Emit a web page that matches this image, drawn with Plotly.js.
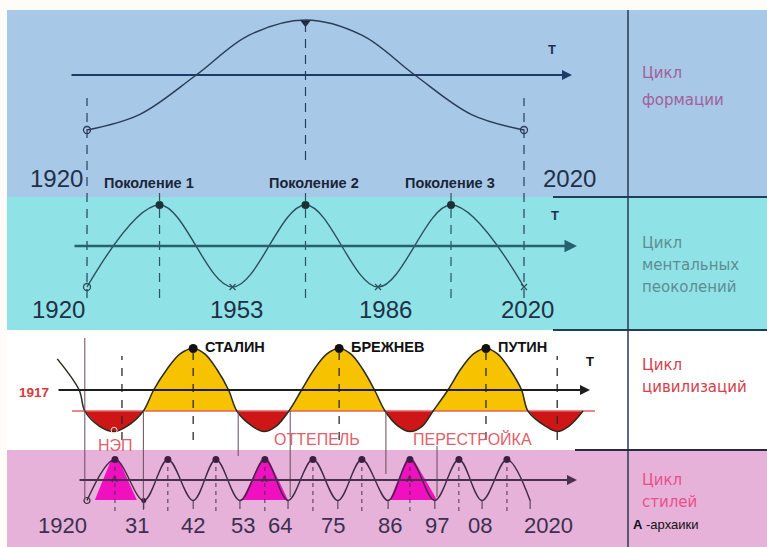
<!DOCTYPE html>
<html><head><meta charset="utf-8">
<script src="https://cdn.plot.ly/plotly-3.0.1.min.js"></script>
<style>html,body{margin:0;padding:0;background:#fdfcf8}#chart{width:767px;height:547px}</style>
</head><body><div id="chart"></div>
<script>
// ---------------- DATA ----------------
// Panel 1: cycle of formation
const formationYears = [1920, 1932, 1945, 1957, 1970, 1983, 1995, 2008, 2020];
const formationLevel = [-1, -0.72, 0, 0.72, 1, 0.72, 0, -0.72, -1];
const formationTickLabels = ['1920', '2020'];
const formationTickPos = [1913.1, 2030.5];
const generationNames = ['Поколение 1', 'Поколение 2', 'Поколение 3'];
const generationNamePos = [1934.2, 1971.9, 2003.1];

// Panel 2: cycle of mental generations
const generationYears = [1920, 1936.6, 1953.3, 1970, 1986.6, 2003.3, 2020];
const generationLevel = [-1, 1, -1, 1, -1, 1, -1];
const generationTickLabels = ['1920', '1953', '1986', '2020'];
const generationTickPos = [1913.4, 1954.3, 1988.4, 2020.7];

// Panel 3: cycle of civilizations
const civYears = [1913.2, 1918.2, 1919.5, 1922.8, 1926.2, 1929.2, 1932.9, 1935.25, 1938.3, 1941.3,
                  1944.3, 1946.95, 1949.7, 1952.4, 1954.3, 1957.8, 1960.5, 1963.3, 1966.2, 1969.1,
                  1972.0, 1974.9, 1977.7, 1980.35, 1983.1, 1985.8, 1988.2, 1991.2, 1993.9, 1996.75,
                  1999.2, 2002.6, 2005.5, 2008.45, 2011.3, 2013.95, 2016.75, 2019.45, 2020.9, 2024.9,
                  2027.6, 2030.3, 2033.5];
const civLevel = [0.75, 0, -0.506, -0.87, -1, -0.87, -0.506, 0, 0.5, 0.87,
                  1, 0.87, 0.5, 0, -0.506, -0.87, -1, -0.87, -0.506, 0,
                  0.5, 0.87, 1, 0.87, 0.5, 0, -0.506, -0.87, -1, -0.87,
                  -0.506, 0, 0.5, 0.87, 1, 0.87, 0.5, 0, -0.506, -0.87,
                  -1, -0.87, -0.506];
const civBaseline = -0.506;
const civRedLobes = [[2, 6], [14, 18], [26, 30], [38, 42]];
const civYellowLobes = [[6, 14], [18, 26], [30, 38]];
const leaderNames = ['СТАЛИН', 'БРЕЖНЕВ', 'ПУТИН'];
const leaderYears = [1944.3, 1977.7, 2011.3];
const periodNames = ['НЭП', 'ОТТЕПЕЛЬ', 'ПЕРЕСТРОЙКА'];
const periodNamePos = [1926.6, 1972.6, 2008.1];
const periodBounds = [1919.5, 1932.9, 1954.6, 1966.5, 1988.4, 2000.1];

// Panel 4: cycle of styles
const styleYears = [1920.0, 1926.4, 1933.0, 1938.5, 1944.3, 1949.5, 1955.0, 1960.7, 1966.0, 1971.7,
                    1977.4, 1982.9, 1988.9, 1993.9, 1999.6, 2005.1, 2010.4, 2016.1, 2021.4];
const styleLevel = [-1, 1, -1, 1, -1, 1, -1, 1, -1, 1, -1, 1, -1, 1, -1, 1, -1, 1, -1];
const archaicX = [[1921.8, 1925.5, 1927.3, 1931.4], [1955.5, 1959.8, 1961.6, 1966.0], [1989.3, 1993.0, 1994.8, 2000.1]];
const archaicY = [-0.98, 0.98, 0.98, -0.98];
const styleTickLabels = ['1920', '31', '42', '53', '64', '75', '86', '97', '08', '2020'];
const styleTickPos = [1914.3, 1931.4, 1944.3, 1955.7, 1964.2, 1976.3, 1989.3, 2000.1, 2009.9, 2025.5];

// ---------------- LAYOUT HELPERS ----------------
const W = 767, H = 547, K = 4.37;
const X0 = 1920 - 87 / K, X1 = X0 + W / K;
const P = y => 1 - y / H;          // pixel row -> paper
const PX = x => x / W;              // pixel col -> paper
function yax(top, bottom, axisPx, unit) {
  return {domain: [P(bottom), P(top)], range: [-(bottom - axisPx) / unit, (axisPx - top) / unit],
          visible: false, fixedrange: true, showgrid: false, zeroline: false};
}
const FONT = 'Liberation Sans, Arial, sans-serif';
const FONT2 = 'DejaVu Sans, Liberation Sans, sans-serif';

const traces = [];
const shapes = [];
const ann = [];

// backgrounds
shapes.push({type: 'rect', xref: 'paper', yref: 'paper', x0: PX(7), x1: 1, y0: P(197), y1: P(10), fillcolor: '#a8c8e8', line: {width: 0}, layer: 'below'});
shapes.push({type: 'rect', xref: 'paper', yref: 'paper', x0: PX(7), x1: 1, y0: P(330), y1: P(197), fillcolor: '#8fe3e6', line: {width: 0}, layer: 'below'});
shapes.push({type: 'rect', xref: 'paper', yref: 'paper', x0: PX(7), x1: 1, y0: P(450), y1: P(330), fillcolor: '#ffffff', line: {width: 0}, layer: 'below'});
shapes.push({type: 'rect', xref: 'paper', yref: 'paper', x0: PX(7), x1: 1, y0: 0, y1: P(450), fillcolor: '#e6b2d9', line: {width: 0}, layer: 'below'});
// right column dividers
shapes.push({type: 'line', xref: 'paper', yref: 'paper', x0: PX(628), x1: PX(628), y0: 0, y1: P(10), line: {color: '#2a3a50', width: 1.5}});
shapes.push({type: 'line', xref: 'paper', yref: 'paper', x0: PX(553), x1: 1, y0: P(197), y1: P(197), line: {color: '#1f3f55', width: 2}});
shapes.push({type: 'line', xref: 'paper', yref: 'paper', x0: PX(553), x1: 1, y0: P(330), y1: P(330), line: {color: '#1f3f55', width: 2}});
shapes.push({type: 'line', xref: 'paper', yref: 'paper', x0: PX(575), x1: 1, y0: P(450), y1: P(450), line: {color: '#2a2a40', width: 2}});

function vline(x, yTop, yBot, color, dash, width) {
  shapes.push({type: 'line', xref: 'x', yref: 'paper', x0: x, x1: x, y0: P(yBot), y1: P(yTop),
               line: {color: color, width: width || 1.2, dash: dash || 'solid'}});
}
function arrow(yref, tail, head, color, width) {
  ann.push({xref: 'x', yref: yref, axref: 'x', ayref: yref, x: head, y: 0, ax: tail, ay: 0, text: '',
            showarrow: true, arrowhead: 2, arrowsize: 1, arrowwidth: width, arrowcolor: color});
}
function txt(xref, x, y, text, size, color, opts, family) {
  ann.push(Object.assign({xref: xref, yref: 'paper', x: xref === 'paper' ? PX(x) : x, y: P(y), text: text,
    showarrow: false, font: {family: family || FONT, size: size, color: color}, xanchor: 'center', yanchor: 'middle'}, opts || {}));
}

// ---------------- PANEL 1 ----------------
vline(1920, 98, 298, '#2a3f5f', '9px,7px');
vline(2020, 98, 298, '#2a3f5f', '9px,7px');
vline(1970, 22, 160, '#2a3f5f', '9px,7px');
arrow('y', X0 + 70 / K, X0 + 572 / K, '#1e3a66', 2);
traces.push({x: formationYears, y: formationLevel, yaxis: 'y', mode: 'lines', line: {shape: 'spline', color: '#2b3c55', width: 1.5}});
traces.push({x: [formationYears[0], formationYears[formationYears.length - 1]], y: [formationLevel[0], formationLevel[formationLevel.length - 1]], yaxis: 'y', mode: 'markers',
             marker: {symbol: 'circle-open', size: 7, color: '#2b3c55', line: {width: 1.3}}});
traces.push({x: [formationYears[4]], y: [formationLevel[4] - 0.05], yaxis: 'y', mode: 'markers', marker: {symbol: 'triangle-down', size: 9, color: '#1e2a40'}});
txt('paper', 552, 50, '<b>Т</b>', 13, '#1e3050');
formationTickLabels.forEach((t, i) => txt('x', formationTickPos[i], 178, t, 24, '#1f3047'));
generationNames.forEach((t, i) => txt('x', generationNamePos[i], 183, '<b>' + t + '</b>', 14.5, '#1b2535'));

// ---------------- PANEL 2 ----------------
[generationYears[1], generationYears[3], generationYears[5]].forEach(x => vline(x, 186, 298, '#2a5560', '9px,7px'));
arrow('y2', X0 + 73 / K, X0 + 577 / K, '#276070', 2.5);
traces.push({x: generationYears, y: generationLevel, yaxis: 'y2', mode: 'lines', line: {shape: 'spline', color: '#2e4f5a', width: 1.4}});
traces.push({x: [generationYears[0]], y: [generationLevel[0]], yaxis: 'y2', mode: 'markers', marker: {symbol: 'circle-open', size: 7, color: '#2e4f5a', line: {width: 1.3}}});
traces.push({x: [generationYears[1], generationYears[3], generationYears[5]], y: [1, 1, 1], yaxis: 'y2', mode: 'markers', marker: {size: 8, color: '#1c3036'}});
traces.push({x: [generationYears[2], generationYears[4], generationYears[6]], y: [-1, -1, -1], yaxis: 'y2', mode: 'markers', marker: {symbol: 'x-thin-open', size: 6, color: '#2e4f5a', line: {width: 1.2}}});
txt('paper', 555, 216, '<b>Т</b>', 13, '#1e3050');
generationTickLabels.forEach((t, i) => txt('x', generationTickPos[i], 309, t, 24, '#1f3047'));

// ---------------- PANEL 3 ----------------
civYellowLobes.forEach(([a, b]) => traces.push({x: civYears.slice(a, b + 1), y: civLevel.slice(a, b + 1), yaxis: 'y3', mode: 'lines',
  line: {shape: 'spline', width: 0}, fill: 'toself', fillcolor: '#f7c300'}));
civRedLobes.forEach(([a, b]) => traces.push({x: civYears.slice(a, b + 1), y: civLevel.slice(a, b + 1), yaxis: 'y3', mode: 'lines',
  line: {shape: 'spline', width: 0}, fill: 'toself', fillcolor: '#cf1616'}));
traces.push({x: [X0 + 72 / K, X0 + 595 / K], y: [civBaseline, civBaseline], yaxis: 'y3', mode: 'lines', line: {color: '#e06060', width: 1.3}});
[1928.0, leaderYears[0], leaderYears[1], leaderYears[2], 2027.6].forEach((x, i) =>
  vline(x, (i === 0 || i === 4) ? 356 : 349, 440, '#2a2a2a', '8px,8px', 1.3));
periodBounds.forEach((x, i) => {
  const r = [[338, 500], [411, 510], [411, 456], [411, 497], [411, 474], [446, 497]][i];
  vline(x, r[0], r[1], '#6b4a5a', 'solid', 1);
});
arrow('y3', X0 + 57 / K, X0 + 590 / K, '#1d1d1d', 2);
traces.push({x: civYears, y: civLevel, yaxis: 'y3', mode: 'lines', line: {shape: 'spline', color: '#2a2a1e', width: 1.5}});
traces.push({x: leaderYears, y: [1, 1, 1], yaxis: 'y3', mode: 'markers', marker: {size: 9, color: '#111'}});
traces.push({x: [civYears[4]], y: [-0.97], yaxis: 'y3', mode: 'markers', marker: {symbol: 'circle-open', size: 6, color: '#e8e0d0', line: {width: 1}}});
txt('paper', 590, 361, '<b>Т</b>', 13, '#111');
txt('paper', 51, 392, '<b>1917</b>', 13.5, '#d63a3a', {xanchor: 'right'});
leaderNames.forEach((t, i) => txt('x', leaderYears[i] + 2.3, 347, '<b>' + t + '</b>', 14.5, '#111', {xanchor: 'left'}));
periodNames.forEach((t, i) => txt('x', periodNamePos[i], i === 0 ? 445 : 439, t, 16, '#e0606c'));

// ---------------- PANEL 4 ----------------
archaicX.forEach(xs => traces.push({x: xs, y: archaicY, yaxis: 'y4', mode: 'lines', line: {width: 0}, fill: 'toself', fillcolor: '#f010c0'}));
styleYears.forEach((x, i) => {
  if (styleLevel[i] > 0) vline(x, 466, 511, '#4a3050', '4px,4px', 1);
  else if (i > 0) vline(x, 500, 509, '#4a3050', 'solid', 1);
});
arrow('y4', X0 + 78 / K, X0 + 577 / K, '#4a3050', 2);
traces.push({x: styleYears, y: styleLevel, yaxis: 'y4', mode: 'lines', line: {shape: 'spline', color: '#3e2a45', width: 1.4}});
traces.push({x: styleYears.filter((_, i) => styleLevel[i] > 0), y: styleLevel.filter(v => v > 0), yaxis: 'y4', mode: 'markers', marker: {size: 7, color: '#3a1f40'}});
traces.push({x: [styleYears[0]], y: [styleLevel[0]], yaxis: 'y4', mode: 'markers', marker: {symbol: 'circle-open', size: 6, color: '#3e2a45', line: {width: 1.2}}});
traces.push({x: [styleYears[2]], y: [styleLevel[2]], yaxis: 'y4', mode: 'markers', marker: {size: 5, color: '#3a1f40'}});
archaicX.forEach(xs => txt('x', (xs[1] + xs[2]) / 2, 479, '<b>A</b>', 9, '#5a1a50'));
styleTickLabels.forEach((t, i) => txt('x', styleTickPos[i], 525, t, 22, '#3a3050'));

// ---------------- RIGHT COLUMN ----------------
txt('paper', 640, 73, 'Цикл', 15, '#a0609a', {xanchor: 'left'}, FONT2);
txt('paper', 640, 100, 'формации', 15, '#a0609a', {xanchor: 'left'}, FONT2);
txt('paper', 640, 243, 'Цикл', 15, '#5f8c94', {xanchor: 'left'}, FONT2);
txt('paper', 640, 265, 'ментальных', 15, '#5f8c94', {xanchor: 'left'}, FONT2);
txt('paper', 640, 287, 'пеоколений', 15, '#5f8c94', {xanchor: 'left'}, FONT2);
txt('paper', 640, 365, 'Цикл', 15, '#d4404c', {xanchor: 'left'}, FONT2);
txt('paper', 640, 387, 'цивилизаций', 15, '#d4404c', {xanchor: 'left'}, FONT2);
txt('paper', 640, 480, 'Цикл', 15, '#e8508a', {xanchor: 'left'}, FONT2);
txt('paper', 640, 502, 'стилей', 15, '#e8508a', {xanchor: 'left'}, FONT2);
txt('paper', 631, 524, '<b>А</b> -архаики', 13, '#111', {xanchor: 'left'});

const layout = {
  width: W, height: H, margin: {l: 0, r: 0, t: 0, b: 0},
  paper_bgcolor: '#fdfcf8', plot_bgcolor: 'rgba(0,0,0,0)', showlegend: false, hovermode: false,
  xaxis: {range: [X0, X1], visible: false, fixedrange: true, showgrid: false, zeroline: false},
  yaxis: yax(10, 197, 75, 55),
  yaxis2: yax(197, 330, 246, 41),
  yaxis3: yax(330, 450, 390, 41.5),
  yaxis4: yax(450, 547, 480, 20.5),
  shapes: shapes, annotations: ann
};
traces.forEach(t => { t.hoverinfo = 'skip'; t.cliponaxis = false; });
Plotly.newPlot('chart', traces, layout, {staticPlot: true, displayModeBar: false});
</script></body></html>
